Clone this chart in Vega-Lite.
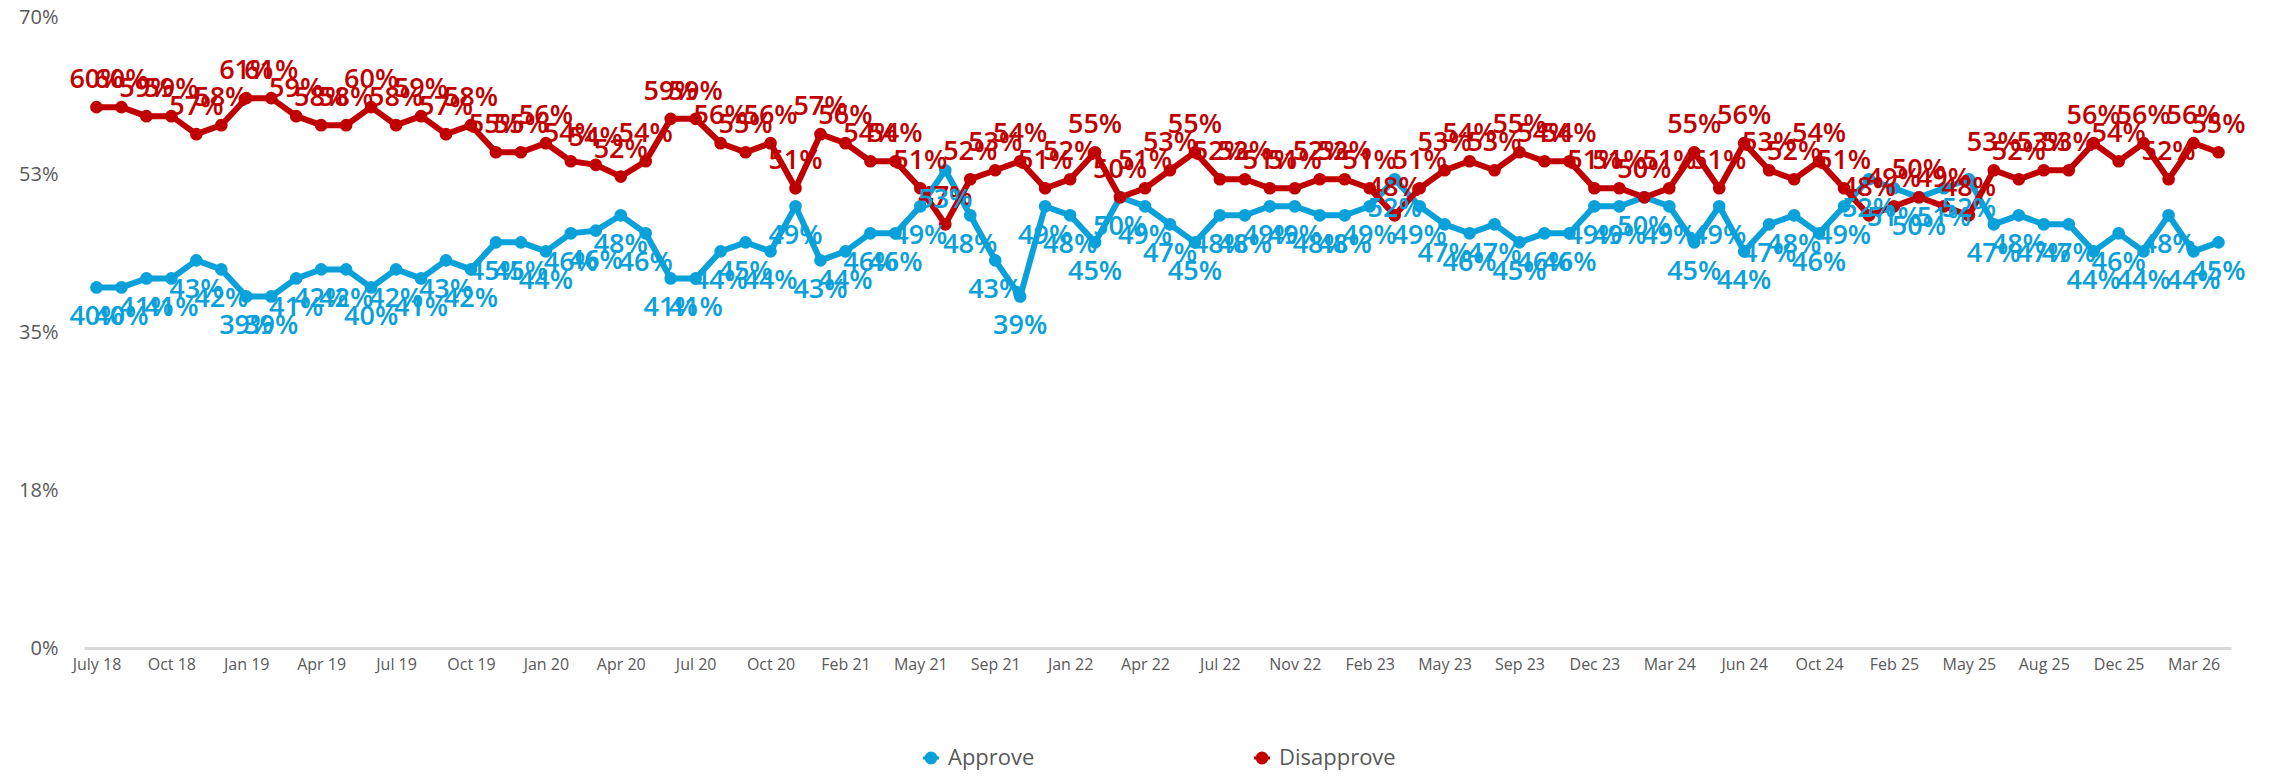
{
  "$schema": "https://vega.github.io/schema/vega-lite/v6.json",
  "width": 2147,
  "height": 631,
  "autosize": {"type": "none"},
  "padding": {"left": 84, "top": 17, "right": 39, "bottom": 128},
  "background": "white",
  "config": {"view": {"stroke": null}},
  "data": {"values": [
    {"m": "July 18", "Approve": 0.40, "Disapprove": 0.60},
    {"m": "Aug 18", "Approve": 0.40, "Disapprove": 0.60},
    {"m": "Sep 18", "Approve": 0.41, "Disapprove": 0.59},
    {"m": "Oct 18", "Approve": 0.41, "Disapprove": 0.59},
    {"m": "Nov 18", "Approve": 0.43, "Disapprove": 0.57},
    {"m": "Dec 18", "Approve": 0.42, "Disapprove": 0.58},
    {"m": "Jan 19", "Approve": 0.39, "Disapprove": 0.61},
    {"m": "Feb 19", "Approve": 0.39, "Disapprove": 0.61},
    {"m": "Mar 19", "Approve": 0.41, "Disapprove": 0.59},
    {"m": "Apr 19", "Approve": 0.42, "Disapprove": 0.58},
    {"m": "May 19", "Approve": 0.42, "Disapprove": 0.58},
    {"m": "Jun 19", "Approve": 0.40, "Disapprove": 0.60},
    {"m": "Jul 19", "Approve": 0.42, "Disapprove": 0.58},
    {"m": "Aug 19", "Approve": 0.41, "Disapprove": 0.59},
    {"m": "Sep 19", "Approve": 0.43, "Disapprove": 0.57},
    {"m": "Oct 19", "Approve": 0.42, "Disapprove": 0.58},
    {"m": "Nov 19", "Approve": 0.45, "Disapprove": 0.55},
    {"m": "Dec 19", "Approve": 0.45, "Disapprove": 0.55},
    {"m": "Jan 20", "Approve": 0.44, "Disapprove": 0.56},
    {"m": "Feb 20", "Approve": 0.46, "Disapprove": 0.54},
    {"m": "Mar 20", "Approve": 0.463, "Disapprove": 0.536},
    {"m": "Apr 20", "Approve": 0.48, "Disapprove": 0.523},
    {"m": "May 20", "Approve": 0.46, "Disapprove": 0.54},
    {"m": "Jun 20", "Approve": 0.41, "Disapprove": 0.587},
    {"m": "Jul 20", "Approve": 0.41, "Disapprove": 0.587},
    {"m": "Aug 20", "Approve": 0.44, "Disapprove": 0.56},
    {"m": "Sep 20", "Approve": 0.45, "Disapprove": 0.55},
    {"m": "Oct 20", "Approve": 0.44, "Disapprove": 0.56},
    {"m": "Nov 20", "Approve": 0.49, "Disapprove": 0.51},
    {"m": "Jan 21", "Approve": 0.43, "Disapprove": 0.57},
    {"m": "Feb 21", "Approve": 0.44, "Disapprove": 0.56},
    {"m": "Mar 21", "Approve": 0.46, "Disapprove": 0.54},
    {"m": "Apr 21", "Approve": 0.46, "Disapprove": 0.54},
    {"m": "May 21", "Approve": 0.49, "Disapprove": 0.51},
    {"m": "Jun 21", "Approve": 0.53, "Disapprove": 0.47},
    {"m": "Aug 21", "Approve": 0.48, "Disapprove": 0.52},
    {"m": "Sep 21", "Approve": 0.43, "Disapprove": 0.53},
    {"m": "Oct 21", "Approve": 0.39, "Disapprove": 0.54},
    {"m": "Dec 21", "Approve": 0.49, "Disapprove": 0.51},
    {"m": "Jan 22", "Approve": 0.48, "Disapprove": 0.52},
    {"m": "Feb 22", "Approve": 0.45, "Disapprove": 0.55},
    {"m": "Mar 22", "Approve": 0.50, "Disapprove": 0.50},
    {"m": "Apr 22", "Approve": 0.49, "Disapprove": 0.51},
    {"m": "May 22", "Approve": 0.47, "Disapprove": 0.53},
    {"m": "Jun 22", "Approve": 0.45, "Disapprove": 0.55},
    {"m": "Jul 22", "Approve": 0.48, "Disapprove": 0.52},
    {"m": "Aug 22", "Approve": 0.48, "Disapprove": 0.52},
    {"m": "Oct 22", "Approve": 0.49, "Disapprove": 0.51},
    {"m": "Nov 22", "Approve": 0.49, "Disapprove": 0.51},
    {"m": "Dec 22", "Approve": 0.48, "Disapprove": 0.52},
    {"m": "Jan 23", "Approve": 0.48, "Disapprove": 0.52},
    {"m": "Feb 23", "Approve": 0.49, "Disapprove": 0.51},
    {"m": "Mar 23", "Approve": 0.52, "Disapprove": 0.48},
    {"m": "Apr 23", "Approve": 0.49, "Disapprove": 0.51},
    {"m": "May 23", "Approve": 0.47, "Disapprove": 0.53},
    {"m": "Jun 23", "Approve": 0.46, "Disapprove": 0.54},
    {"m": "Aug 23", "Approve": 0.47, "Disapprove": 0.53},
    {"m": "Sep 23", "Approve": 0.45, "Disapprove": 0.55},
    {"m": "Oct 23", "Approve": 0.46, "Disapprove": 0.54},
    {"m": "Nov 23", "Approve": 0.46, "Disapprove": 0.54},
    {"m": "Dec 23", "Approve": 0.49, "Disapprove": 0.51},
    {"m": "Jan 24", "Approve": 0.49, "Disapprove": 0.51},
    {"m": "Feb 24", "Approve": 0.50, "Disapprove": 0.50},
    {"m": "Mar 24", "Approve": 0.49, "Disapprove": 0.51},
    {"m": "Apr 24", "Approve": 0.45, "Disapprove": 0.55},
    {"m": "May 24", "Approve": 0.49, "Disapprove": 0.51},
    {"m": "Jun 24", "Approve": 0.44, "Disapprove": 0.56},
    {"m": "Jul 24", "Approve": 0.47, "Disapprove": 0.53},
    {"m": "Sep 24", "Approve": 0.48, "Disapprove": 0.52},
    {"m": "Oct 24", "Approve": 0.46, "Disapprove": 0.54},
    {"m": "Nov 24", "Approve": 0.49, "Disapprove": 0.51},
    {"m": "Jan 25", "Approve": 0.52, "Disapprove": 0.48},
    {"m": "Feb 25", "Approve": 0.51, "Disapprove": 0.49},
    {"m": "Mar 25", "Approve": 0.50, "Disapprove": 0.50},
    {"m": "Apr 25", "Approve": 0.51, "Disapprove": 0.49},
    {"m": "May 25", "Approve": 0.52, "Disapprove": 0.48},
    {"m": "Jun 25", "Approve": 0.47, "Disapprove": 0.53},
    {"m": "Jul 25", "Approve": 0.48, "Disapprove": 0.52},
    {"m": "Aug 25", "Approve": 0.47, "Disapprove": 0.53},
    {"m": "Sep 25", "Approve": 0.47, "Disapprove": 0.53},
    {"m": "Oct 25", "Approve": 0.44, "Disapprove": 0.56},
    {"m": "Dec 25", "Approve": 0.46, "Disapprove": 0.54},
    {"m": "Jan 26", "Approve": 0.44, "Disapprove": 0.56},
    {"m": "Feb 26", "Approve": 0.48, "Disapprove": 0.52},
    {"m": "Mar 26", "Approve": 0.44, "Disapprove": 0.56},
    {"m": "Apr 26", "Approve": 0.45, "Disapprove": 0.55}
  ]},
  "transform": [{"fold": ["Approve", "Disapprove"], "as": ["series", "value"]}],
  "encoding": {
    "x": {
      "field": "m", "type": "ordinal", "sort": null,
      "scale": {"type": "point", "padding": 0.5},
      "axis": {
        "title": null,
        "values": ["July 18", "Oct 18", "Jan 19", "Apr 19", "Jul 19", "Oct 19", "Jan 20", "Apr 20", "Jul 20", "Oct 20", "Feb 21", "May 21", "Sep 21", "Jan 22", "Apr 22", "Jul 22", "Nov 22", "Feb 23", "May 23", "Sep 23", "Dec 23", "Mar 24", "Jun 24", "Oct 24", "Feb 25", "May 25", "Aug 25", "Dec 25", "Mar 26"],
        "labelAngle": 0, "labelOverlap": false,
        "labelFont": "Open Sans", "labelFontSize": 16, "labelColor": "#595959",
        "labelPadding": 8, "ticks": false, "tickSize": 0,
        "domain": true, "domainColor": "#d9d9d9", "domainWidth": 3, "grid": false
      }
    },
    "y": {
      "field": "value", "type": "quantitative",
      "scale": {"domain": [0, 0.7], "nice": false, "zero": true},
      "axis": {
        "title": null, "values": [0, 0.175, 0.35, 0.525, 0.7], "format": ".0%",
        "labelFont": "Open Sans", "labelFontSize": 20, "labelColor": "#595959",
        "labelPadding": 26, "ticks": false, "tickSize": 0, "domain": false, "grid": false
      }
    },
    "color": {
      "field": "series", "type": "nominal",
      "scale": {"domain": ["Approve", "Disapprove"], "range": ["#0AA0D9", "#C00000"]},
      "legend": {
        "orient": "none", "legendX": 836, "legendY": 730, "direction": "horizontal",
        "title": null, "padding": 0,
        "symbolType": "M-1.6,0L1.6,0M1,0A1,1,0,1,1,-1,0A1,1,0,1,1,1,0",
        "symbolSize": 100, "symbolStrokeWidth": 3, "symbolOpacity": 1,
        "labelFont": "Open Sans", "labelFontSize": 22, "labelColor": "#595959",
        "labelOffset": 6, "columnPadding": 213,
        "encode": {"symbols": {"update": {
          "fill": {"scale": "color", "field": "value"},
          "stroke": {"scale": "color", "field": "value"},
          "strokeWidth": {"value": 3}, "opacity": {"value": 1}
        }}}
      }
    }
  },
  "layer": [
    {"mark": {"type": "line", "strokeWidth": 6}, "encoding": {}},
    {"mark": {"type": "point", "filled": true, "size": 160, "opacity": 1}, "encoding": {}},
    {
      "transform": [{"filter": "datum.series === 'Disapprove'"}],
      "mark": {"type": "text", "font": "Open Sans", "fontSize": 27, "fontWeight": 600, "baseline": "alphabetic", "align": "center", "dy": -19},
      "encoding": {"text": {"field": "value", "type": "quantitative", "format": ".0%"}}
    },
    {
      "transform": [{"filter": "datum.series === 'Approve'"}],
      "mark": {"type": "text", "font": "Open Sans", "fontSize": 27, "fontWeight": 600, "baseline": "alphabetic", "align": "center", "dy": 38},
      "encoding": {"text": {"field": "value", "type": "quantitative", "format": ".0%"}}
    }
  ]
}
